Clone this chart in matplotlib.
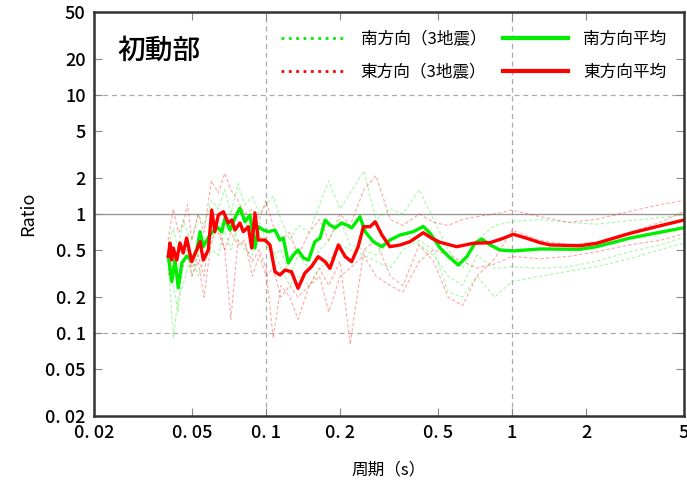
import matplotlib
matplotlib.use("Agg")
import matplotlib.pyplot as plt
from matplotlib.ticker import FixedLocator, NullLocator

plt.rcParams['font.family'] = ['Noto Sans CJK JP', 'DejaVu Sans']

# 南方向平均 (green mean)
ns_period = [0.0401, 0.0414, 0.0427, 0.0440, 0.0455, 0.0476, 0.0499, 0.0523, 0.054, 0.0556,
             0.0592, 0.0631, 0.0661, 0.0682, 0.0714, 0.0748, 0.0784, 0.0822, 0.0861, 0.0902,
             0.0931, 0.0976, 0.1022, 0.1088, 0.114, 0.1176, 0.1233, 0.129, 0.135, 0.142,
             0.149, 0.158, 0.166, 0.174, 0.182, 0.191, 0.203, 0.213, 0.223, 0.241,
             0.253, 0.273, 0.296, 0.319, 0.351, 0.397, 0.436, 0.464, 0.510, 0.560,
             0.605, 0.655, 0.708, 0.754, 0.815, 0.894, 1.012, 1.30, 1.89, 2.21,
             3.02, 4.11, 5.0]
ns_mean = [0.44, 0.27, 0.41, 0.239, 0.387, 0.44, 0.41, 0.498, 0.71, 0.531,
           0.666, 0.782, 0.71, 0.925, 0.733, 0.925, 1.12, 0.861, 0.98, 0.518,
           0.782, 0.733, 0.71, 0.733, 0.604, 0.628, 0.387, 0.452, 0.498, 0.427,
           0.41, 0.585, 0.628, 0.89, 0.808, 0.763, 0.84, 0.808, 0.763, 0.949,
           0.71, 0.585, 0.531, 0.604, 0.666, 0.71, 0.785, 0.692, 0.518, 0.427,
           0.372, 0.4375, 0.570, 0.616, 0.549, 0.498, 0.489, 0.508, 0.505, 0.531,
           0.628, 0.71, 0.767]

# 東方向平均 (red mean)
ew_period = [0.0401, 0.0407, 0.0414, 0.042, 0.0434, 0.0447, 0.0461, 0.0476, 0.0499, 0.0523,
             0.054, 0.0556, 0.0583, 0.0602, 0.062, 0.064, 0.0671, 0.0703, 0.0726, 0.0748,
             0.0784, 0.0809, 0.0848, 0.0875, 0.0902, 0.0931, 0.0991, 0.1038, 0.1088, 0.114,
             0.1195, 0.127, 0.135, 0.144, 0.153, 0.163, 0.174, 0.182, 0.197, 0.210,
             0.223, 0.237, 0.249, 0.265, 0.278, 0.296, 0.319, 0.351, 0.385, 0.436,
             0.472, 0.510, 0.596, 0.697, 0.815, 0.922, 1.012, 1.148, 1.30, 1.43,
             1.89, 2.21, 3.02, 4.12, 5.0]
ew_mean = [0.44, 0.570, 0.41, 0.518, 0.41, 0.570, 0.470, 0.628, 0.397, 0.498,
           0.585, 0.41, 0.498, 1.08, 0.71, 0.98, 1.045, 0.84, 0.89, 0.733,
           0.84, 0.71, 0.782, 0.518, 1.02, 0.604, 0.604, 0.549, 0.327, 0.307,
           0.338, 0.327, 0.237, 0.319, 0.360, 0.4375, 0.397, 0.349, 0.549, 0.4375,
           0.397, 0.531, 0.782, 0.782, 0.861, 0.666, 0.531, 0.549, 0.585, 0.696,
           0.625, 0.578, 0.531, 0.567, 0.574, 0.625, 0.675, 0.625, 0.574, 0.549,
           0.541, 0.567, 0.688, 0.808, 0.89]

# individual earthquakes (3 each)
ind_period = [0.040, 0.042, 0.044, 0.046, 0.048, 0.050, 0.053, 0.056, 0.060, 0.064,
              0.068, 0.072, 0.077, 0.082, 0.088, 0.094, 0.10, 0.107, 0.115, 0.125,
              0.135, 0.15, 0.165, 0.18, 0.20, 0.22, 0.25, 0.28, 0.32, 0.36,
              0.42, 0.48, 0.55, 0.63, 0.72, 0.85, 1.0, 1.3, 1.7, 2.2,
              3.0, 4.0, 5.0]
ns_eq1 = [0.55, 0.75, 0.5, 0.9, 0.7, 0.6, 1.0, 0.8, 1.3, 1.1,
          1.6, 1.0, 1.8, 1.2, 1.4, 1.0, 1.2, 1.4, 0.9, 0.6,
          0.8, 0.7, 1.2, 1.9, 1.1, 1.5, 2.3, 0.9, 1.1, 1.0,
          1.6, 0.9, 0.5, 0.35, 0.6, 0.8, 0.86, 0.9, 0.85, 0.82,
          0.88, 0.93, 0.98]
ns_eq2 = [0.35, 0.25, 0.15, 0.4, 0.5, 0.3, 0.45, 0.6, 0.55, 0.9,
          0.7, 0.5, 0.8, 0.95, 0.5, 0.7, 0.55, 0.45, 0.5, 0.3,
          0.45, 0.35, 0.5, 0.6, 0.9, 0.55, 0.5, 0.45, 0.6, 0.7,
          0.55, 0.45, 0.3, 0.25, 0.45, 0.35, 0.36, 0.35, 0.36, 0.4,
          0.48, 0.55, 0.64]
ns_eq3 = [0.45, 0.09, 0.2, 0.25, 0.35, 0.45, 0.3, 0.4, 0.5, 0.45,
          0.75, 0.8, 0.6, 0.5, 0.45, 0.85, 0.6, 0.5, 0.35, 0.25,
          0.3, 0.25, 0.35, 0.4, 0.55, 0.5, 0.45, 0.4, 0.35, 0.5,
          0.6, 0.5, 0.22, 0.2, 0.3, 0.2, 0.27, 0.3, 0.33, 0.36,
          0.42, 0.5, 0.57]
ew_eq1 = [0.6, 1.1, 0.7, 0.8, 1.2, 0.6, 1.0, 0.7, 1.9, 1.5,
          2.2, 1.6, 1.3, 1.0, 1.1, 0.9, 1.3, 0.8, 0.6, 0.7,
          0.45, 0.7, 0.9, 0.6, 1.0, 0.8, 1.6, 2.1, 0.9, 0.8,
          1.0, 0.85, 0.8, 0.9, 0.95, 1.0, 1.08, 0.95, 0.85, 0.9,
          1.05, 1.2, 1.3]
ew_eq2 = [0.4, 0.35, 0.3, 0.35, 0.5, 0.35, 0.45, 0.3, 0.9, 0.7,
          0.5, 0.13, 0.6, 0.55, 0.4, 0.5, 0.35, 0.09, 0.25, 0.2,
          0.13, 0.25, 0.35, 0.25, 0.4, 0.08, 0.5, 0.6, 0.3, 0.25,
          0.55, 0.4, 0.2, 0.17, 0.3, 0.42, 0.73, 0.6, 0.55, 0.58,
          0.7, 0.85, 1.05]
ew_eq3 = [0.3, 0.5, 0.25, 0.4, 0.45, 0.3, 0.4, 0.2, 0.6, 0.8,
          0.5, 0.7, 0.55, 0.6, 0.3, 0.45, 0.3, 0.35, 0.2, 0.25,
          0.2, 0.25, 0.3, 0.15, 0.3, 0.35, 0.45, 0.3, 0.25, 0.22,
          0.4, 0.5, 0.45, 0.4, 0.35, 0.38, 0.44, 0.42, 0.44, 0.48,
          0.55, 0.6, 0.68]

x_ticks = [0.02, 0.05, 0.1, 0.2, 0.5, 1, 2, 5]
x_labels = ["0. 02", "0. 05", "0. 1", "0. 2", "0. 5", "1", "2", "5"]
y_ticks = [0.02, 0.05, 0.1, 0.2, 0.5, 1, 2, 5, 10, 20, 50]
y_labels = ["0. 02", "0. 05", "0. 1", "0. 2", "0. 5", "1", "2", "5", "10", "20", "50"]

green = "#00ee00"
red = "#ff0000"

fig = plt.figure(figsize=(6.87, 4.83), dpi=100)
ax = fig.add_axes([0.1368, 0.1387, 0.8588, 0.8365])
ax.set_xscale("log")
ax.set_yscale("log")
ax.set_xlim(0.02, 5)
ax.set_ylim(0.02, 50)

# grid
for gx in [0.1, 1]:
    ax.axvline(gx, color="#aaaaaa", lw=0.9, ls=(0, (4, 3)), zorder=0)
for gy in [0.1, 10]:
    ax.axhline(gy, color="#aaaaaa", lw=0.9, ls=(0, (4, 3)), zorder=0)
ax.axhline(1, color="#999999", lw=1.0, zorder=0)

for s in [ns_eq1, ns_eq2, ns_eq3]:
    ax.plot(ind_period, s, color=green, lw=0.8, ls=(0, (3, 2)), alpha=0.35)
for s in [ew_eq1, ew_eq2, ew_eq3]:
    ax.plot(ind_period, s, color=red, lw=0.8, ls=(0, (3, 2)), alpha=0.35)

ax.plot(ns_period, ns_mean, color=green, lw=2.4)
ax.plot(ew_period, ew_mean, color=red, lw=2.4)

# legend
h1, = ax.plot([], [], color=green, lw=2, ls=":")
h2, = ax.plot([], [], color=red, lw=2, ls=":")
h3, = ax.plot([], [], color=green, lw=3)
h4, = ax.plot([], [], color=red, lw=3)
ax.legend([h1, h2, h3, h4], ["南方向（3地震）", "東方向（3地震）", "南方向平均", "東方向平均"],
          ncol=2, loc="upper right", frameon=False, fontsize=12, handlelength=3.9,
          columnspacing=1.0, handletextpad=0.9, labelspacing=0.95,
          bbox_to_anchor=(0.995, 0.99))

ax.text(0.04, 0.94, "初動部", transform=ax.transAxes, fontsize=20, va="top", ha="left",
        fontweight="medium")

ax.xaxis.set_major_locator(FixedLocator(x_ticks))
ax.xaxis.set_minor_locator(NullLocator())
ax.set_xticklabels(x_labels, fontweight="medium")
ax.yaxis.set_major_locator(FixedLocator(y_ticks))
ax.yaxis.set_minor_locator(NullLocator())
ax.set_yticklabels(y_labels, fontweight="medium")
ax.tick_params(direction="in", length=6, width=0.8, color="#888888", labelsize=13,
               top=True, right=True, pad=6)

for sp in ax.spines.values():
    sp.set_linewidth(1.8)
    sp.set_color("#333333")

ax.set_xlabel("周期（s）", fontsize=12, labelpad=14)
ax.set_ylabel("Ratio", fontsize=13, labelpad=6)

fig.savefig("out.png", dpi=100)
